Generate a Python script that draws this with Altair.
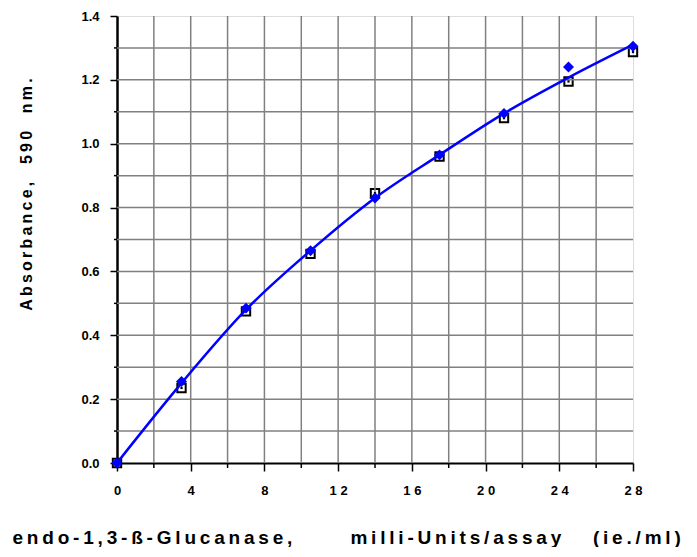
import altair as alt
import pandas as pd

# measured values
x_vals = [0, 3.5, 7, 10.5, 14, 17.5, 21, 24.5, 28]
diamond_y = [0.0, 0.255, 0.485, 0.665, 0.83, 0.965, 1.095, 1.24, 1.305]
square_y = [0.0, 0.235, 0.475, 0.655, 0.845, 0.96, 1.08, 1.195, 1.287]
curve_y = [0.0, 0.25, 0.48, 0.665, 0.83, 0.965, 1.095, 1.207, 1.31]

x_major = [0, 4, 8, 12, 16, 20, 24, 28]
x_minor = [2, 6, 10, 14, 18, 22, 26]
x_grid = list(range(2, 27, 2))
y_major = [0.0, 0.2, 0.4, 0.6, 0.8, 1.0, 1.2, 1.4]
y_minor = [0.1, 0.3, 0.5, 0.7, 0.9, 1.1, 1.3]
y_grid = [0.1, 0.2, 0.3, 0.4, 0.5, 0.6, 0.7, 0.8, 0.9, 1.0, 1.1, 1.2, 1.3]

x_title_parts = ["endo-1,3-ß-Glucanase,", "milli-Units/assay", "(ie./ml)"]
y_title_parts = ["Absorbance,", "590", "nm."]

TS = "\u2009"
NB = "\u00a0"
x_title = (TS.join(x_title_parts[0]) + NB * 11 + TS.join(x_title_parts[1])
           + NB * 6 + TS.join(x_title_parts[2]))
y_title = (TS.join(y_title_parts[0]) + NB * 4 + TS.join(y_title_parts[1])
           + NB * 4 + TS.join(y_title_parts[2]))

df = pd.DataFrame({"x": x_vals, "d": diamond_y, "s": square_y, "c": curve_y})

xs = alt.Scale(domain=[0, 28], nice=False, zero=False)
ys = alt.Scale(domain=[0, 1.4], nice=False, zero=False)

FONT = "Liberation Sans"
GRID = "#808080"
H = 447

x_axis = alt.Axis(values=x_major, orient="bottom", grid=False, domain=True,
                  domainColor="black", domainWidth=2, tickSize=8, tickColor="black",
                  tickWidth=1.5, labelFont=FONT, labelFontWeight="bold", labelFontSize=13,
                  labelColor="black", labelPadding=13, labelFlush=False,
                  labelExpr="join(split(datum.label, ''), ' ')",
                  title=x_title,
                  titleFont=FONT, titleFontWeight="bold", titleFontSize=19,
                  titleColor="black", titleAnchor="start", titleAlign="left",
                  titleX=-105, titleY=74, titleBaseline="middle")
y_axis = alt.Axis(values=y_major, orient="left", grid=False, domain=True,
                  domainColor="black", domainWidth=2.5, tickSize=7, tickColor="black",
                  tickWidth=1.5, format=".1f", labelFont=FONT, labelFontWeight="bold",
                  labelFontSize=13, labelColor="black", labelPadding=11, labelFlush=False,
                  title=y_title,
                  titleFont=FONT, titleFontWeight="bold", titleFontSize=16,
                  titleColor="black", titleAngle=-90, titleAlign="center",
                  titleBaseline="middle", titleX=-91, titleY=178)

vgrid = alt.Chart(pd.DataFrame({"gx": x_grid})).mark_rule(
    color=GRID, strokeWidth=1.5).encode(x=alt.X("gx:Q", scale=xs))
hgrid = alt.Chart(pd.DataFrame({"gy": y_grid})).mark_rule(
    color=GRID, strokeWidth=1.5).encode(y=alt.Y("gy:Q", scale=ys))
xminor = alt.Chart(pd.DataFrame({"mx": x_minor})).mark_rule(
    color="black", strokeWidth=1.5).encode(
    x=alt.X("mx:Q", scale=xs), y=alt.value(H), y2=alt.value(H + 5))
yminor = alt.Chart(pd.DataFrame({"my": y_minor})).mark_rule(
    color="black", strokeWidth=1.5).encode(
    y=alt.Y("my:Q", scale=ys), x=alt.value(-3), x2=alt.value(0))

base = alt.Chart(df)

squares = base.mark_point(shape="square", filled=False, color="black", size=70,
                          strokeWidth=2, opacity=1).encode(
    x=alt.X("x:Q", scale=xs, axis=x_axis),
    y=alt.Y("s:Q", scale=ys, axis=y_axis),
)

dots = base.mark_point(shape="square", filled=True, color="black", size=5, opacity=1).encode(
    x=alt.X("x:Q", scale=xs),
    y=alt.Y("s:Q", scale=ys),
)

curve = base.mark_line(color="#0000ff", strokeWidth=2.5, interpolate="monotone").encode(
    x=alt.X("x:Q", scale=xs),
    y=alt.Y("c:Q", scale=ys),
)

diamonds = base.mark_point(shape="diamond", filled=True, color="#0000ff", size=120,
                           opacity=1).encode(
    x=alt.X("x:Q", scale=xs),
    y=alt.Y("d:Q", scale=ys),
)

chart = alt.layer(squares, vgrid, hgrid, xminor, yminor, dots, curve, diamonds).properties(
    width=516, height=H,
    padding={"left": 4, "top": 2, "right": 0, "bottom": 0},
).configure_view(stroke="black", strokeWidth=2).configure(background="white")

chart.save("out.html", embed_options={"renderer": "svg", "actions": False})
